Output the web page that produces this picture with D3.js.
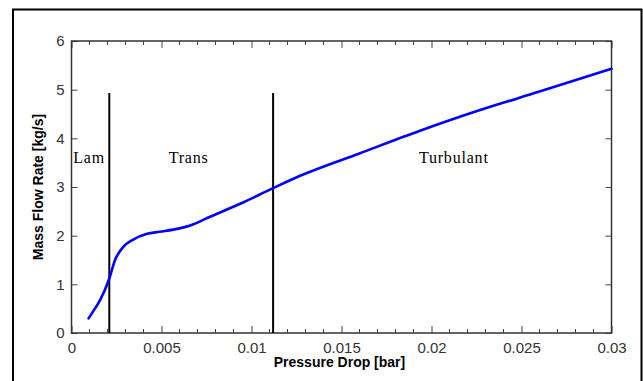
<!DOCTYPE html>
<html>
<head>
<meta charset="utf-8">
<script src="https://cdn.jsdelivr.net/npm/d3@7"></script>
<style>
  body { margin: 0; background: #fff; }
  svg { display: block; }
</style>
</head>
<body>
<div id="chart"></div>
<script>
// flow rate vs pressure drop
const dp = [0.00095, 0.0013, 0.00158, 0.0021, 0.00242, 0.00288, 0.00343, 0.0042, 0.0049, 0.006, 0.0066, 0.0077, 0.0094, 0.011, 0.0127, 0.016, 0.0194, 0.0227, 0.026, 0.03];
const flow = [0.30, 0.50, 0.67, 1.12, 1.50, 1.77, 1.92, 2.04, 2.08, 2.15, 2.21, 2.39, 2.66, 2.94, 3.23, 3.69, 4.16, 4.58, 4.96, 5.43];

// regime boundaries and labels
const boundaries = [0.0021, 0.0112];
const boundaryTop = 4.93;
const regimes = ["Lam", "Trans", "Turbulant"];
const regimeX = [0.0001, 0.0054, 0.0193];
const regimeY = [3.5, 3.5, 3.5];

const xTicks = [0, 0.005, 0.01, 0.015, 0.02, 0.025, 0.03];
const xTickLabels = ["0", "0.005", "0.01", "0.015", "0.02", "0.025", "0.03"];
const yTicks = [0, 1, 2, 3, 4, 5, 6];

const W = 643, H = 381;
const margin = { top: 41, right: 31.5, bottom: 48, left: 71.5 },
    width = W - margin.left - margin.right,
    height = H - margin.top - margin.bottom;

const root = d3.select("#chart").append("svg")
    .attr("width", W)
    .attr("height", H);

root.append("rect").attr("width", W).attr("height", H).attr("fill", "#fff");

// outer frame (bottom edge runs off the picture)
root.append("rect")
    .attr("x", 13).attr("y", 9.5)
    .attr("width", 628.5).attr("height", 420)
    .attr("fill", "none")
    .attr("stroke", "#000")
    .attr("stroke-width", 2);

const svg = root.append("g")
    .attr("transform", `translate(${margin.left},${margin.top})`);

const x = d3.scaleLinear().domain([0, 0.03]).range([0, width]);
const y = d3.scaleLinear().domain([0, 6]).range([height, 0]);

const minorX = d3.range(0, 31).map(i => i / 1000).filter(v => Math.round(v * 1000) % 5 !== 0);
const tickColor = "#444";
const labelFont = "Liberation Sans, Arial, sans-serif";

// minor ticks top and bottom
svg.append("g").selectAll("line").data(minorX).join("line")
    .attr("x1", d => x(d)).attr("x2", d => x(d))
    .attr("y1", height).attr("y2", height - 4)
    .attr("stroke", tickColor);
svg.append("g").selectAll("line").data(minorX).join("line")
    .attr("x1", d => x(d)).attr("x2", d => x(d))
    .attr("y1", 0).attr("y2", 4)
    .attr("stroke", tickColor);

// major x ticks (inside)
svg.append("g")
    .attr("transform", `translate(0,${height})`)
    .call(d3.axisBottom(x).tickValues(xTicks).tickFormat((d, i) => xTickLabels[i]).tickSizeInner(-7).tickSizeOuter(0).tickPadding(9))
    .call(g => g.select(".domain").remove())
    .call(g => g.selectAll("line").attr("stroke", tickColor))
    .call(g => g.selectAll("text").attr("font-family", labelFont).attr("font-size", 15).attr("fill", "#333"));
svg.append("g")
    .call(d3.axisTop(x).tickValues(xTicks).tickFormat("").tickSizeInner(-7).tickSizeOuter(0))
    .call(g => g.select(".domain").remove())
    .call(g => g.selectAll("line").attr("stroke", tickColor));

// y ticks (inside) left and right
svg.append("g")
    .call(d3.axisLeft(y).tickValues(yTicks).tickFormat(d3.format("d")).tickSizeInner(-6).tickSizeOuter(0).tickPadding(7))
    .call(g => g.select(".domain").remove())
    .call(g => g.selectAll("line").attr("stroke", tickColor))
    .call(g => g.selectAll("text").attr("font-family", labelFont).attr("font-size", 15).attr("fill", "#333"));
svg.append("g")
    .attr("transform", `translate(${width},0)`)
    .call(d3.axisRight(y).tickValues(yTicks).tickFormat("").tickSizeInner(-6).tickSizeOuter(0))
    .call(g => g.select(".domain").remove())
    .call(g => g.selectAll("line").attr("stroke", tickColor));

// plot box
svg.append("rect")
    .attr("width", width).attr("height", height)
    .attr("fill", "none")
    .attr("stroke", "#333")
    .attr("stroke-width", 1.5);

// regime boundaries
svg.selectAll(".boundary").data(boundaries).join("line")
    .attr("class", "boundary")
    .attr("x1", d => x(d)).attr("x2", d => x(d))
    .attr("y1", y(0)).attr("y2", y(boundaryTop))
    .attr("stroke", "#000")
    .attr("stroke-width", 2);

// flow curve
const pts = dp.map((d, i) => [d, flow[i]]);
svg.append("path")
    .datum(pts)
    .attr("fill", "none")
    .attr("stroke", "#0000ff")
    .attr("stroke-width", 2.6)
    .attr("stroke-linecap", "round")
    .attr("d", d3.line().x(d => x(d[0])).y(d => y(d[1])).curve(d3.curveMonotoneX));

// regime labels
svg.selectAll(".regime").data(regimes).join("text")
    .attr("class", "regime")
    .attr("x", (d, i) => x(regimeX[i]))
    .attr("y", (d, i) => y(regimeY[i]))
    .attr("font-family", "Liberation Serif, Times New Roman, serif")
    .attr("font-size", 16)
    .attr("letter-spacing", 0.8)
    .attr("fill", "#000")
    .text(d => d);

// axis titles
svg.append("text")
    .attr("x", width / 2 - 2)
    .attr("y", height + 34)
    .attr("text-anchor", "middle")
    .attr("font-family", labelFont)
    .attr("font-weight", "bold")
    .attr("font-size", 14)
    .text("Pressure Drop [bar]");

svg.append("text")
    .attr("transform", `translate(${-29},${height / 2}) rotate(-90)`)
    .attr("text-anchor", "middle")
    .attr("font-family", labelFont)
    .attr("font-weight", "bold")
    .attr("font-size", 14)
    .text("Mass Flow Rate [kg/s]");
</script>
</body>
</html>
